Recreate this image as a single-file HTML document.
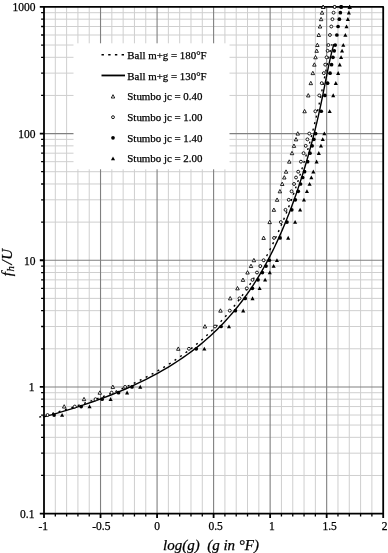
<!DOCTYPE html>
<html><head><meta charset="utf-8"><style>
html,body{margin:0;padding:0;background:#fff;}
svg{display:block;font-family:"Liberation Serif",serif;filter:blur(0.35px);}
text{stroke:#000;stroke-width:0.25px;}
</style></head><body>
<svg width="388" height="553" viewBox="0 0 388 553">
<rect width="388" height="553" fill="#fff"/>
<path d="M55.31 6.9V513.6M66.61 6.9V513.6M77.92 6.9V513.6M89.23 6.9V513.6M111.84 6.9V513.6M123.15 6.9V513.6M134.45 6.9V513.6M145.76 6.9V513.6M168.37 6.9V513.6M179.68 6.9V513.6M190.99 6.9V513.6M202.29 6.9V513.6M224.91 6.9V513.6M236.21 6.9V513.6M247.52 6.9V513.6M258.83 6.9V513.6M281.44 6.9V513.6M292.75 6.9V513.6M304.05 6.9V513.6M315.36 6.9V513.6M337.97 6.9V513.6M349.28 6.9V513.6M360.59 6.9V513.6M371.89 6.9V513.6M44 475.47H383.2M44 453.16H383.2M44 437.33H383.2M44 425.06H383.2M44 415.03H383.2M44 406.55H383.2M44 399.2H383.2M44 392.72H383.2M44 348.79H383.2M44 326.49H383.2M44 310.66H383.2M44 298.38H383.2M44 288.35H383.2M44 279.87H383.2M44 272.53H383.2M44 266.05H383.2M44 222.12H383.2M44 199.81H383.2M44 183.98H383.2M44 171.71H383.2M44 161.68H383.2M44 153.2H383.2M44 145.85H383.2M44 139.37H383.2M44 95.44H383.2M44 73.14H383.2M44 57.31H383.2M44 45.03H383.2M44 35H383.2M44 26.52H383.2M44 19.18H383.2M44 12.7H383.2" stroke="#cfcfcf" stroke-width="1.0" fill="none"/>
<path d="M100.53 6.9V513.6M157.07 6.9V513.6M213.6 6.9V513.6M270.13 6.9V513.6M326.67 6.9V513.6M44 386.93H383.2M44 260.25H383.2M44 133.58H383.2" stroke="#808080" stroke-width="1.1" fill="none"/>
<rect x="73.5" y="43.3" width="156" height="126" fill="#fff"/>
<path d="M42.9 417.2 L54.1 414.07 L64.73 410.93 L74.8 407.8 L84.37 404.66 L93.44 401.53 L102.06 398.39 L110.25 395.26 L118.04 392.12 L125.44 388.99 L132.49 385.86 L139.2 382.72 L145.59 379.59 L151.68 376.45 L157.5 373.32 L163.05 370.18 L168.35 367.05 L173.42 363.91 L178.27 360.78 L182.91 357.65 L187.36 354.51 L191.63 351.38 L195.72 348.24 L199.65 345.11 L203.43 341.97 L207.06 338.84 L210.56 335.7 L213.93 332.57 L217.17 329.44 L220.31 326.3 L223.33 323.17 L226.25 320.03 L229.07 316.9 L231.8 313.76 L234.45 310.63 L237.01 307.49 L239.49 304.36 L241.9 301.23 L244.23 298.09 L246.5 294.96 L248.7 291.82 L250.84 288.69 L252.92 285.55 L254.94 282.42 L256.91 279.28 L258.83 276.15 L260.7 273.02 L262.52 269.88 L264.29 266.75 L266.03 263.61 L267.72 260.48 L269.37 257.34 L270.98 254.21 L272.55 251.07 L274.09 247.94 L275.59 244.81 L277.06 241.67 L278.5 238.54 L279.91 235.4 L281.29 232.27 L282.64 229.13 L283.97 226 L285.27 222.86 L286.54 219.73 L287.79 216.59 L289.02 213.46 L290.22 210.33 L291.4 207.19 L292.56 204.06 L293.7 200.92 L294.82 197.79 L295.92 194.65 L297.01 191.52 L298.07 188.38 L299.12 185.25 L300.15 182.12 L301.16 178.98 L302.16 175.85 L303.14 172.71 L304.11 169.58 L305.06 166.44 L305.99 163.31 L306.91 160.17 L307.82 157.04 L308.71 153.91 L309.58 150.77 L310.44 147.64 L311.29 144.5 L312.12 141.37 L312.94 138.23 L313.74 135.1 L314.53 131.96 L315.3 128.83 L316.06 125.7 L316.8 122.56 L317.54 119.43 L318.25 116.29 L318.96 113.16 L319.65 110.02 L320.33 106.89 L321 103.75 L321.65 100.62 L322.3 97.49 L322.94 94.35 L323.57 91.22 L324.19 88.08 L324.81 84.95 L325.43 81.81 L326.05 78.68 L326.67 75.54 L327.3 72.41 L327.93 69.28 L328.58 66.14 L329.24 63.01 L329.92 59.87 L330.64 56.74 L331.38 53.6 L332.16 50.47 L332.98 47.33 L333.86 44.2" stroke="#000" stroke-width="1.4" fill="none"/>
<path d="M39.23 417.2 L45.97 415.33 L52.49 413.45 L58.81 411.58 L64.94 409.7 L70.87 407.83 L76.62 405.95 L82.2 404.08 L87.6 402.21 L92.84 400.33 L97.92 398.46 L102.85 396.58 L107.64 394.71 L112.28 392.83 L116.78 390.96 L121.15 389.08 L125.4 387.21 L129.52 385.34 L133.52 383.46 L137.41 381.59 L141.2 379.71 L144.87 377.84 L148.44 375.96 L151.92 374.09 L155.3 372.22 L158.59 370.34 L161.79 368.47 L164.9 366.59 L167.94 364.72 L170.89 362.84 L173.77 360.97 L176.58 359.09 L179.32 357.22 L181.98 355.35 L184.59 353.47 L187.12 351.6 L189.6 349.72 L192.02 347.85 L194.38 345.97 L196.69 344.1 L198.94 342.23 L201.15 340.35 L203.3 338.48 L205.41 336.6 L207.47 334.73 L209.48 332.85 L211.45 330.98 L213.39 329.1 L215.28 327.23 L217.13 325.36 L218.94 323.48 L220.72 321.61 L222.46 319.73 L224.17 317.86 L225.84 315.98 L227.49 314.11 L229.1 312.24 L230.68 310.36 L232.23 308.49 L233.76 306.61 L235.26 304.74 L236.73 302.86 L238.17 300.99 L239.59 299.11 L240.99 297.24 L242.36 295.37 L243.7 293.49 L245.03 291.62 L246.33 289.74 L247.62 287.87 L248.88 285.99 L250.12 284.12 L251.34 282.25 L252.55 280.37 L253.73 278.5 L254.9 276.62 L256.04 274.75 L257.18 272.87 L258.29 271 L259.39 269.12 L260.47 267.25 L261.54 265.38 L262.59 263.5 L263.63 261.63 L264.65 259.75 L265.66 257.88 L266.65 256 L267.63 254.13 L268.6 252.26 L269.56 250.38 L270.5 248.51 L271.43 246.63 L272.35 244.76 L273.26 242.88 L274.15 241.01 L275.04 239.13 L275.91 237.26 L276.77 235.39 L277.62 233.51 L278.47 231.64 L279.3 229.76 L280.12 227.89 L280.93 226.01 L281.74 224.14 L282.53 222.27 L283.32 220.39 L284.09 218.52 L284.86 216.64 L285.62 214.77 L286.37 212.89 L287.11 211.02 L287.85 209.14 L288.58 207.27 L289.3 205.4 L290.01 203.52 L290.72 201.65 L291.41 199.77 L292.1 197.9 L292.79 196.02 L293.47 194.15 L294.14 192.28 L294.8 190.4 L295.46 188.53 L296.11 186.65 L296.75 184.78 L297.39 182.9 L298.03 181.03 L298.65 179.15 L299.27 177.28 L299.89 175.41 L300.5 173.53 L301.1 171.66 L301.69 169.78 L302.29 167.91 L302.87 166.03 L303.45 164.16 L304.03 162.29 L304.59 160.41 L305.16 158.54 L305.71 156.66 L306.27 154.79 L306.81 152.91 L307.35 151.04 L307.89 149.16 L308.42 147.29 L308.94 145.42 L309.46 143.54 L309.97 141.67 L310.48 139.79 L310.98 137.92 L311.48 136.04 L311.97 134.17 L312.46 132.3 L312.94 130.42 L313.41 128.55 L313.88 126.67 L314.34 124.8 L314.8 122.92 L315.25 121.05 L315.7 119.17 L316.14 117.3 L316.58 115.43 L317.01 113.55 L317.44 111.68 L317.86 109.8 L318.28 107.93 L318.69 106.05 L319.1 104.18 L319.51 102.31 L319.9 100.43 L320.3 98.56 L320.69 96.68 L321.08 94.81 L321.47 92.93 L321.85 91.06 L322.23 89.18 L322.6 87.31 L322.98 85.44 L323.35 83.56 L323.73 81.69 L324.1 79.81 L324.47 77.94 L324.84 76.06 L325.22 74.19 L325.59 72.32 L325.97 70.44 L326.35 68.57 L326.74 66.69 L327.13 64.82 L327.53 62.94 L327.93 61.07 L328.34 59.19 L328.76 57.32 L329.19 55.45 L329.64 53.57 L330.09 51.7 L330.56 49.82 L331.05 47.95 L331.55 46.07 L332.07 44.2" stroke="#000" stroke-width="1.4" stroke-dasharray="2 4.7" fill="none"/>
<circle cx="47.53" cy="415.03" r="1.45" fill="#fff" stroke="#000" stroke-width="0.9"/>
<circle cx="54.1" cy="415.03" r="1.85" fill="#000"/>
<polygon points="60.04,416.78 64.14,416.78 62.09,412.93" fill="#000"/>
<polygon points="62.44,408.05 65.94,408.05 64.19,404.7" fill="#fff" stroke="#000" stroke-width="0.85"/>
<circle cx="74.77" cy="406.55" r="1.45" fill="#fff" stroke="#000" stroke-width="0.9"/>
<circle cx="81.17" cy="406.55" r="1.85" fill="#000"/>
<polygon points="87.51,408.3 91.61,408.3 89.56,404.45" fill="#000"/>
<polygon points="82.27,400.7 85.77,400.7 84.02,397.35" fill="#fff" stroke="#000" stroke-width="0.85"/>
<circle cx="95.53" cy="399.2" r="1.45" fill="#fff" stroke="#000" stroke-width="0.9"/>
<circle cx="102.11" cy="399.2" r="1.85" fill="#000"/>
<polygon points="108.57,400.95 112.67,400.95 110.62,397.1" fill="#000"/>
<polygon points="98.04,394.22 101.54,394.22 99.79,390.87" fill="#fff" stroke="#000" stroke-width="0.85"/>
<circle cx="111.58" cy="392.72" r="1.45" fill="#fff" stroke="#000" stroke-width="0.9"/>
<circle cx="118.52" cy="392.72" r="1.85" fill="#000"/>
<polygon points="125.06,394.47 129.16,394.47 127.11,390.62" fill="#000"/>
<polygon points="111.09,388.43 114.59,388.43 112.84,385.07" fill="#fff" stroke="#000" stroke-width="0.85"/>
<circle cx="125.1" cy="386.93" r="1.45" fill="#fff" stroke="#000" stroke-width="0.9"/>
<circle cx="131.98" cy="386.93" r="1.85" fill="#000"/>
<polygon points="138.19,388.68 142.29,388.68 140.24,384.82" fill="#000"/>
<polygon points="176.54,350.29 180.04,350.29 178.29,346.94" fill="#fff" stroke="#000" stroke-width="0.85"/>
<circle cx="188.95" cy="348.79" r="1.45" fill="#fff" stroke="#000" stroke-width="0.9"/>
<circle cx="196.26" cy="348.79" r="1.85" fill="#000"/>
<polygon points="202.29,350.54 206.39,350.54 204.34,346.69" fill="#000"/>
<polygon points="203.19,327.99 206.69,327.99 204.94,324.64" fill="#fff" stroke="#000" stroke-width="0.85"/>
<circle cx="215.04" cy="326.49" r="1.45" fill="#fff" stroke="#000" stroke-width="0.9"/>
<circle cx="221.05" cy="326.49" r="1.85" fill="#000"/>
<polygon points="226.94,328.24 231.04,328.24 228.99,324.39" fill="#000"/>
<polygon points="218.72,312.16 222.22,312.16 220.47,308.81" fill="#fff" stroke="#000" stroke-width="0.85"/>
<circle cx="229.78" cy="310.66" r="1.45" fill="#fff" stroke="#000" stroke-width="0.9"/>
<circle cx="235.38" cy="310.66" r="1.85" fill="#000"/>
<polygon points="241.15,312.41 245.25,312.41 243.2,308.56" fill="#000"/>
<polygon points="228.46,299.88 231.96,299.88 230.21,296.53" fill="#fff" stroke="#000" stroke-width="0.85"/>
<circle cx="239.51" cy="298.38" r="1.45" fill="#fff" stroke="#000" stroke-width="0.9"/>
<circle cx="245.21" cy="298.38" r="1.85" fill="#000"/>
<polygon points="250.48,300.13 254.58,300.13 252.53,296.28" fill="#000"/>
<polygon points="235.75,289.85 239.25,289.85 237.5,286.5" fill="#fff" stroke="#000" stroke-width="0.85"/>
<circle cx="246.81" cy="288.35" r="1.45" fill="#fff" stroke="#000" stroke-width="0.9"/>
<circle cx="252.36" cy="288.35" r="1.85" fill="#000"/>
<polygon points="257.56,290.1 261.66,290.1 259.61,286.25" fill="#000"/>
<polygon points="241.22,281.37 244.72,281.37 242.97,278.02" fill="#fff" stroke="#000" stroke-width="0.85"/>
<circle cx="252.5" cy="279.87" r="1.45" fill="#fff" stroke="#000" stroke-width="0.9"/>
<circle cx="258.02" cy="279.87" r="1.85" fill="#000"/>
<polygon points="263.08,281.62 267.18,281.62 265.13,277.77" fill="#000"/>
<polygon points="245.79,274.03 249.29,274.03 247.54,270.68" fill="#fff" stroke="#000" stroke-width="0.85"/>
<circle cx="256.99" cy="272.53" r="1.45" fill="#fff" stroke="#000" stroke-width="0.9"/>
<circle cx="262.36" cy="272.53" r="1.85" fill="#000"/>
<polygon points="267.74,274.28 271.84,274.28 269.79,270.43" fill="#000"/>
<polygon points="249.26,267.55 252.76,267.55 251.01,264.2" fill="#fff" stroke="#000" stroke-width="0.85"/>
<circle cx="260.29" cy="266.05" r="1.45" fill="#fff" stroke="#000" stroke-width="0.9"/>
<circle cx="266.03" cy="266.05" r="1.85" fill="#000"/>
<polygon points="271.58,267.8 275.68,267.8 273.63,263.95" fill="#000"/>
<polygon points="252.14,261.75 255.64,261.75 253.89,258.4" fill="#fff" stroke="#000" stroke-width="0.85"/>
<circle cx="263.61" cy="260.25" r="1.45" fill="#fff" stroke="#000" stroke-width="0.9"/>
<circle cx="269.31" cy="260.25" r="1.85" fill="#000"/>
<polygon points="274.9,262 279,262 276.95,258.15" fill="#000"/>
<polygon points="261.86,239.44 265.36,239.44 263.61,236.09" fill="#fff" stroke="#000" stroke-width="0.85"/>
<circle cx="274.05" cy="237.94" r="1.45" fill="#fff" stroke="#000" stroke-width="0.9"/>
<circle cx="280.09" cy="237.94" r="1.85" fill="#000"/>
<polygon points="286.14,239.69 290.24,239.69 288.19,235.84" fill="#000"/>
<polygon points="267.91,223.62 271.41,223.62 269.66,220.27" fill="#fff" stroke="#000" stroke-width="0.85"/>
<circle cx="280.85" cy="222.12" r="1.45" fill="#fff" stroke="#000" stroke-width="0.9"/>
<circle cx="286.97" cy="222.12" r="1.85" fill="#000"/>
<polygon points="293.07,223.87 297.17,223.87 295.12,220.02" fill="#000"/>
<polygon points="272.14,211.34 275.64,211.34 273.89,207.99" fill="#fff" stroke="#000" stroke-width="0.85"/>
<circle cx="285.49" cy="209.84" r="1.45" fill="#fff" stroke="#000" stroke-width="0.9"/>
<circle cx="291.76" cy="209.84" r="1.85" fill="#000"/>
<polygon points="298.07,211.59 302.17,211.59 300.12,207.74" fill="#000"/>
<polygon points="275.34,201.31 278.84,201.31 277.09,197.96" fill="#fff" stroke="#000" stroke-width="0.85"/>
<circle cx="288.74" cy="199.81" r="1.45" fill="#fff" stroke="#000" stroke-width="0.9"/>
<circle cx="295.32" cy="199.81" r="1.85" fill="#000"/>
<polygon points="301.92,201.56 306.02,201.56 303.97,197.71" fill="#000"/>
<polygon points="278.15,192.83 281.65,192.83 279.9,189.48" fill="#fff" stroke="#000" stroke-width="0.85"/>
<circle cx="291.56" cy="191.33" r="1.45" fill="#fff" stroke="#000" stroke-width="0.9"/>
<circle cx="298.23" cy="191.33" r="1.85" fill="#000"/>
<polygon points="304.89,193.08 308.99,193.08 306.94,189.23" fill="#000"/>
<polygon points="280.45,185.48 283.95,185.48 282.2,182.13" fill="#fff" stroke="#000" stroke-width="0.85"/>
<circle cx="294.05" cy="183.98" r="1.45" fill="#fff" stroke="#000" stroke-width="0.9"/>
<circle cx="300.54" cy="183.98" r="1.85" fill="#000"/>
<polygon points="307.54,185.73 311.64,185.73 309.59,181.88" fill="#000"/>
<polygon points="282.56,179 286.06,179 284.31,175.65" fill="#fff" stroke="#000" stroke-width="0.85"/>
<circle cx="296.02" cy="177.5" r="1.45" fill="#fff" stroke="#000" stroke-width="0.9"/>
<circle cx="302.68" cy="177.5" r="1.85" fill="#000"/>
<polygon points="309.3,179.25 313.4,179.25 311.35,175.4" fill="#000"/>
<polygon points="284.31,173.21 287.81,173.21 286.06,169.86" fill="#fff" stroke="#000" stroke-width="0.85"/>
<circle cx="298.17" cy="171.71" r="1.45" fill="#fff" stroke="#000" stroke-width="0.9"/>
<circle cx="304.57" cy="171.71" r="1.85" fill="#000"/>
<polygon points="311.27,173.46 315.37,173.46 313.32,169.61" fill="#000"/>
<polygon points="287.5,163.18 291,163.18 289.25,159.83" fill="#fff" stroke="#000" stroke-width="0.85"/>
<circle cx="300.94" cy="161.68" r="1.45" fill="#fff" stroke="#000" stroke-width="0.9"/>
<circle cx="307.63" cy="161.68" r="1.85" fill="#000"/>
<polygon points="314.54,163.43 318.64,163.43 316.59,159.58" fill="#000"/>
<polygon points="290.25,154.7 293.75,154.7 292,151.35" fill="#fff" stroke="#000" stroke-width="0.85"/>
<circle cx="303.55" cy="153.2" r="1.45" fill="#fff" stroke="#000" stroke-width="0.9"/>
<circle cx="309.96" cy="153.2" r="1.85" fill="#000"/>
<polygon points="316.76,154.95 320.86,154.95 318.81,151.1" fill="#000"/>
<polygon points="292.22,147.35 295.72,147.35 293.97,144" fill="#fff" stroke="#000" stroke-width="0.85"/>
<circle cx="305.72" cy="145.85" r="1.45" fill="#fff" stroke="#000" stroke-width="0.9"/>
<circle cx="312.14" cy="145.85" r="1.85" fill="#000"/>
<polygon points="318.92,147.6 323.02,147.6 320.97,143.75" fill="#000"/>
<polygon points="294.29,140.87 297.79,140.87 296.04,137.52" fill="#fff" stroke="#000" stroke-width="0.85"/>
<circle cx="307.41" cy="139.37" r="1.45" fill="#fff" stroke="#000" stroke-width="0.9"/>
<circle cx="313.83" cy="139.37" r="1.85" fill="#000"/>
<polygon points="320.69,141.12 324.79,141.12 322.74,137.27" fill="#000"/>
<polygon points="296.01,135.08 299.51,135.08 297.76,131.73" fill="#fff" stroke="#000" stroke-width="0.85"/>
<circle cx="309.28" cy="133.58" r="1.45" fill="#fff" stroke="#000" stroke-width="0.9"/>
<circle cx="315.61" cy="133.58" r="1.85" fill="#000"/>
<polygon points="322.3,135.33 326.4,135.33 324.35,131.48" fill="#000"/>
<polygon points="302.85,112.77 306.35,112.77 304.6,109.42" fill="#fff" stroke="#000" stroke-width="0.85"/>
<circle cx="315.35" cy="111.27" r="1.45" fill="#fff" stroke="#000" stroke-width="0.9"/>
<circle cx="321.24" cy="111.27" r="1.85" fill="#000"/>
<polygon points="327.63,113.02 331.73,113.02 329.68,109.17" fill="#000"/>
<polygon points="306.5,96.94 310,96.94 308.25,93.59" fill="#fff" stroke="#000" stroke-width="0.85"/>
<circle cx="319.26" cy="95.44" r="1.45" fill="#fff" stroke="#000" stroke-width="0.9"/>
<circle cx="324.89" cy="95.44" r="1.85" fill="#000"/>
<polygon points="331.18,97.19 335.28,97.19 333.23,93.34" fill="#000"/>
<polygon points="309.06,84.67 312.56,84.67 310.81,81.32" fill="#fff" stroke="#000" stroke-width="0.85"/>
<circle cx="321.73" cy="83.17" r="1.45" fill="#fff" stroke="#000" stroke-width="0.9"/>
<circle cx="327.58" cy="83.17" r="1.85" fill="#000"/>
<polygon points="333.76,84.92 337.86,84.92 335.81,81.07" fill="#000"/>
<polygon points="311.07,74.64 314.57,74.64 312.82,71.29" fill="#fff" stroke="#000" stroke-width="0.85"/>
<circle cx="323.84" cy="73.14" r="1.45" fill="#fff" stroke="#000" stroke-width="0.9"/>
<circle cx="330.05" cy="73.14" r="1.85" fill="#000"/>
<polygon points="336.1,74.89 340.2,74.89 338.15,71.04" fill="#000"/>
<polygon points="312.62,66.16 316.12,66.16 314.37,62.81" fill="#fff" stroke="#000" stroke-width="0.85"/>
<circle cx="325.21" cy="64.66" r="1.45" fill="#fff" stroke="#000" stroke-width="0.9"/>
<circle cx="331.55" cy="64.66" r="1.85" fill="#000"/>
<polygon points="337.69,66.41 341.79,66.41 339.74,62.56" fill="#000"/>
<polygon points="313.75,58.81 317.25,58.81 315.5,55.46" fill="#fff" stroke="#000" stroke-width="0.85"/>
<circle cx="326.57" cy="57.31" r="1.45" fill="#fff" stroke="#000" stroke-width="0.9"/>
<circle cx="332.95" cy="57.31" r="1.85" fill="#000"/>
<polygon points="339.05,59.06 343.15,59.06 341.1,55.21" fill="#000"/>
<polygon points="314.91,52.33 318.41,52.33 316.66,48.98" fill="#fff" stroke="#000" stroke-width="0.85"/>
<circle cx="327.62" cy="50.83" r="1.45" fill="#fff" stroke="#000" stroke-width="0.9"/>
<circle cx="334.24" cy="50.83" r="1.85" fill="#000"/>
<polygon points="340.01,52.58 344.11,52.58 342.06,48.73" fill="#000"/>
<polygon points="315.59,46.53 319.09,46.53 317.34,43.18" fill="#fff" stroke="#000" stroke-width="0.85"/>
<circle cx="328.39" cy="45.03" r="1.45" fill="#fff" stroke="#000" stroke-width="0.9"/>
<circle cx="335.19" cy="45.03" r="1.85" fill="#000"/>
<polygon points="341.24,46.78 345.34,46.78 343.29,42.93" fill="#000"/>
<polygon points="317.03,36.5 320.53,36.5 318.78,33.15" fill="#fff" stroke="#000" stroke-width="0.85"/>
<circle cx="329.94" cy="35" r="1.45" fill="#fff" stroke="#000" stroke-width="0.9"/>
<circle cx="336.87" cy="35" r="1.85" fill="#000"/>
<polygon points="343.32,36.75 347.42,36.75 345.37,32.9" fill="#000"/>
<polygon points="318.29,28.02 321.79,28.02 320.04,24.67" fill="#fff" stroke="#000" stroke-width="0.85"/>
<circle cx="331.3" cy="26.52" r="1.45" fill="#fff" stroke="#000" stroke-width="0.9"/>
<circle cx="338.08" cy="26.52" r="1.85" fill="#000"/>
<polygon points="344.49,28.27 348.59,28.27 346.54,24.42" fill="#000"/>
<polygon points="319.34,20.68 322.84,20.68 321.09,17.33" fill="#fff" stroke="#000" stroke-width="0.85"/>
<circle cx="332.44" cy="19.18" r="1.45" fill="#fff" stroke="#000" stroke-width="0.9"/>
<circle cx="339.34" cy="19.18" r="1.85" fill="#000"/>
<polygon points="345.79,20.93 349.89,20.93 347.84,17.08" fill="#000"/>
<polygon points="320.3,14.2 323.8,14.2 322.05,10.85" fill="#fff" stroke="#000" stroke-width="0.85"/>
<circle cx="333.56" cy="12.7" r="1.45" fill="#fff" stroke="#000" stroke-width="0.9"/>
<circle cx="340.35" cy="12.7" r="1.85" fill="#000"/>
<polygon points="346.81,14.45 350.91,14.45 348.86,10.6" fill="#000"/>
<polygon points="321.46,8.46 324.96,8.46 323.21,5.11" fill="#fff" stroke="#000" stroke-width="0.85"/>
<circle cx="334.61" cy="6.96" r="1.45" fill="#fff" stroke="#000" stroke-width="0.9"/>
<circle cx="341.16" cy="6.96" r="1.85" fill="#000"/>
<polygon points="347.62,8.71 351.72,8.71 349.67,4.86" fill="#000"/>
<path d="M55.31 513.6V516.5M66.61 513.6V516.5M77.92 513.6V516.5M89.23 513.6V516.5M111.84 513.6V516.5M123.15 513.6V516.5M134.45 513.6V516.5M145.76 513.6V516.5M168.37 513.6V516.5M179.68 513.6V516.5M190.99 513.6V516.5M202.29 513.6V516.5M224.91 513.6V516.5M236.21 513.6V516.5M247.52 513.6V516.5M258.83 513.6V516.5M281.44 513.6V516.5M292.75 513.6V516.5M304.05 513.6V516.5M315.36 513.6V516.5M337.97 513.6V516.5M349.28 513.6V516.5M360.59 513.6V516.5M371.89 513.6V516.5M44 475.47H41.1M44 453.16H41.1M44 437.33H41.1M44 425.06H41.1M44 415.03H41.1M44 406.55H41.1M44 399.2H41.1M44 392.72H41.1M44 348.79H41.1M44 326.49H41.1M44 310.66H41.1M44 298.38H41.1M44 288.35H41.1M44 279.87H41.1M44 272.53H41.1M44 266.05H41.1M44 222.12H41.1M44 199.81H41.1M44 183.98H41.1M44 171.71H41.1M44 161.68H41.1M44 153.2H41.1M44 145.85H41.1M44 139.37H41.1M44 95.44H41.1M44 73.14H41.1M44 57.31H41.1M44 45.03H41.1M44 35H41.1M44 26.52H41.1M44 19.18H41.1M44 12.7H41.1" stroke="#000" stroke-width="1.3" fill="none"/>
<path d="M44 513.6V518M100.53 513.6V518M157.07 513.6V518M213.6 513.6V518M270.13 513.6V518M326.67 513.6V518M383.2 513.6V518M44 513.6H39.8M44 386.93H39.8M44 260.25H39.8M44 133.58H39.8M44 6.9H39.8" stroke="#000" stroke-width="1.8" fill="none"/>
<rect x="44" y="6.9" width="339.2" height="506.7" fill="none" stroke="#000" stroke-width="1.8" stroke-linejoin="round"/>
<polygon points="321.46,8.46 324.96,8.46 323.21,5.11" fill="#fff" stroke="#000" stroke-width="0.85"/>
<circle cx="334.61" cy="6.96" r="1.45" fill="#fff" stroke="#000" stroke-width="0.9"/>
<circle cx="341.16" cy="6.96" r="1.85" fill="#000"/>
<polygon points="347.62,8.71 351.72,8.71 349.67,4.86" fill="#000"/>
<text x="34.4" y="518.01" text-anchor="end" font-size="11.5">0.1</text>
<text x="34.4" y="391.34" text-anchor="end" font-size="11.5">1</text>
<text x="35.5" y="264.66" text-anchor="end" font-size="11.5">10</text>
<text x="35.5" y="137.99" text-anchor="end" font-size="11.5">100</text>
<text x="35.6" y="11.31" text-anchor="end" font-size="11.5">1000</text>
<text x="43.3" y="530.3" text-anchor="middle" font-size="11.5">-1</text>
<text x="101.33" y="530.3" text-anchor="middle" font-size="11.5">-0.5</text>
<text x="157.07" y="530.3" text-anchor="middle" font-size="11.5">0</text>
<text x="215.6" y="530.3" text-anchor="middle" font-size="11.5">0.5</text>
<text x="271.83" y="530.3" text-anchor="middle" font-size="11.5">1</text>
<text x="329.57" y="530.3" text-anchor="middle" font-size="11.5">1.5</text>
<text x="384.6" y="530.3" text-anchor="middle" font-size="11.5">2</text>
<path d="M101.5 54.8H125" stroke="#000" stroke-width="1.6" stroke-dasharray="2.4 4.3"/>
<path d="M101.5 75.46H125" stroke="#000" stroke-width="1.8"/>
<text x="127.3" y="58.9" font-size="10.9">Ball m+g = 180°F</text>
<text x="127.3" y="79.56" font-size="10.9">Ball m+g = 130°F</text>
<text x="127.3" y="100.22" font-size="10.9">Stumbo jc = 0.40</text>
<polygon points="111.25,98.02 114.75,98.02 113,94.67" fill="#fff" stroke="#000" stroke-width="0.85"/>
<text x="127.3" y="120.88" font-size="10.9">Stumbo jc = 1.00</text>
<circle cx="113" cy="117.18" r="1.45" fill="#fff" stroke="#000" stroke-width="0.9"/>
<text x="127.3" y="141.54" font-size="10.9">Stumbo jc = 1.40</text>
<circle cx="113" cy="137.84" r="1.85" fill="#000"/>
<text x="127.3" y="162.2" font-size="10.9">Stumbo jc = 2.00</text>
<polygon points="110.95,160.25 115.05,160.25 113,156.4" fill="#000"/>
<text x="163" y="549.5" font-size="15" font-style="italic" xml:space="preserve">log(g)  (g in °F)</text>
<text transform="translate(12.0 276.2) rotate(-90)" font-size="15" font-style="italic">f<tspan font-size="10.799999999999999" dy="2" dx="0.6">h</tspan><tspan dy="-2" dx="1.4">/</tspan><tspan dx="0.6">U</tspan></text>
</svg>
</body></html>
